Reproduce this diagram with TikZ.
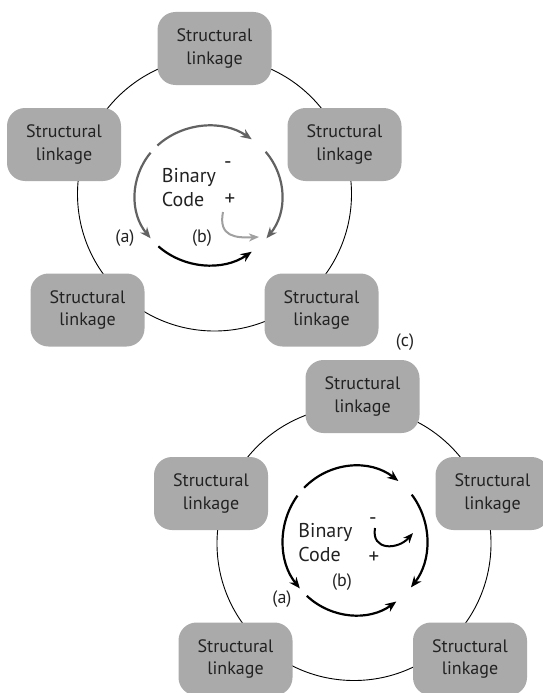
\documentclass[tikz,border=0pt]{standalone}
\usepackage{fontspec}
\setmainfont{PT Sans}
\usetikzlibrary{arrows.meta}
\definecolor{boxgray}{HTML}{AAAAAA}
\definecolor{arcgray}{HTML}{626262}
\definecolor{lightarc}{HTML}{A0A0A0}
\definecolor{inktext}{HTML}{222222}
\begin{document}
\begin{tikzpicture}[x=1pt,y=-1pt,
  link/.style={fill=boxgray, rounded corners=18pt, minimum width=114pt, minimum height=73pt,
    align=center, inner sep=0pt, font=\fontsize{18}{22.5}\selectfont, text=inktext},
  ring/.style={draw=black, line width=0.9pt},
  flow/.style={line width=2.2pt, -{Stealth[length=11pt,width=9pt,inset=3.5pt]}},
  smallflow/.style={line width=2pt, -{Stealth[length=10pt,width=8pt,inset=3pt]}},
  lbl/.style={font=\fontsize{18}{22}\selectfont, inner sep=0pt, text=inktext},
  sign/.style={font=\fontsize{21}{22}\selectfont, inner sep=0pt, text=inktext},
  core/.style={font=\fontsize{20}{24}\selectfont, inner sep=0pt, align=left, text=inktext},
]
\useasboundingbox (0,0) rectangle (542,693);

% ---------- upper diagram ----------
\coordinate (o1) at (214.5,194);
\draw[ring] (o1) circle[radius=137];
\node[link] (t1) at (214.5,48.5) {Structural\\linkage};
\node[link] (l1) at (64,144.5) {Structural\\linkage};
\node[link] (r1) at (344.5,144.5) {Structural\\linkage};
\node[link] (bl1) at (87.5,310) {Structural\\linkage};
\node[link] (br1) at (321.5,310) {Structural\\linkage};

\coordinate (k1) at (208.5,195.5);
\coordinate (k1t) at ([shift={(-134:73.5 and 69.5)}]k1);
\coordinate (k1r) at ([shift={(-39:73.5 and 69.5)}]k1);
\coordinate (k1l) at ([shift={(-142:73.5 and 69.5)}]k1);
\coordinate (k1b) at ([shift={(-227:73.5 and 69.5)}]k1);
\draw[flow, draw=arcgray] (k1t) arc[start angle=-134, end angle=-54, x radius=73.5, y radius=69.5];
\draw[flow, draw=arcgray] (k1r) arc[start angle=-39, end angle=38, x radius=73.5, y radius=69.5];
\draw[flow, draw=arcgray] (k1l) arc[start angle=-142, end angle=-218, x radius=73.5, y radius=69.5];
\draw[flow, draw=black] (k1b) arc[start angle=-227, end angle=-306, x radius=73.5, y radius=69.5];

\node[core] (code1) at (189,188) {Binary\\Code};
\node[sign] (minus1) at (228,165) {-};
\node[sign] (plus1) at (230,200) {+};
\node[lbl] (a1) at (125,238) {(a)};
\node[lbl] (b1) at (202,238) {(b)};
\coordinate (s1s) at (223,212);
\coordinate (s1e) at (259,237);
\draw[smallflow, draw=lightarc] (s1s) .. controls (218,237) and (236,238) .. (s1e);

\node[lbl] (c1) at (405,342) {(c)};

% ---------- lower diagram ----------
\coordinate (o2) at (354,543.5);
\draw[ring] (o2) circle[radius=137];
\node[link] (t2) at (362.5,396.5) {Structural\\linkage};
\node[link] (l2) at (211,493.5) {Structural\\linkage};
\node[link] (r2) at (492.5,493.5) {Structural\\linkage};
\node[link] (bl2) at (235.5,659) {Structural\\linkage};
\node[link] (br2) at (470,659) {Structural\\linkage};

\coordinate (k2) at (355,540.5);
\coordinate (k2t) at ([shift={(-135:72 and 74.5)}]k2);
\coordinate (k2r) at ([shift={(-38:72 and 74.5)}]k2);
\coordinate (k2l) at ([shift={(-143:72 and 74.5)}]k2);
\coordinate (k2b) at ([shift={(-228:72 and 74.5)}]k2);
\draw[flow] (k2t) arc[start angle=-135, end angle=-53, x radius=72, y radius=74.5];
\draw[flow] (k2r) arc[start angle=-38, end angle=39, x radius=72, y radius=74.5];
\draw[flow] (k2l) arc[start angle=-143, end angle=-220, x radius=72, y radius=74.5];
\draw[flow] (k2b) arc[start angle=-228, end angle=-305, x radius=72, y radius=74.5];

\node[core] (code2) at (325.5,543) {Binary\\Code};
\node[sign] (minus2) at (373,521) {-};
\node[sign] (plus2) at (374,558) {+};
\node[lbl] (a2) at (282,599) {(a)};
\node[lbl] (b2) at (342,582) {(b)};
\coordinate (s2s) at (375,528);
\coordinate (s2e) at (413,533);
\draw[smallflow] (s2s) .. controls (371,551) and (398,550) .. (s2e);
\end{tikzpicture}
\end{document}
